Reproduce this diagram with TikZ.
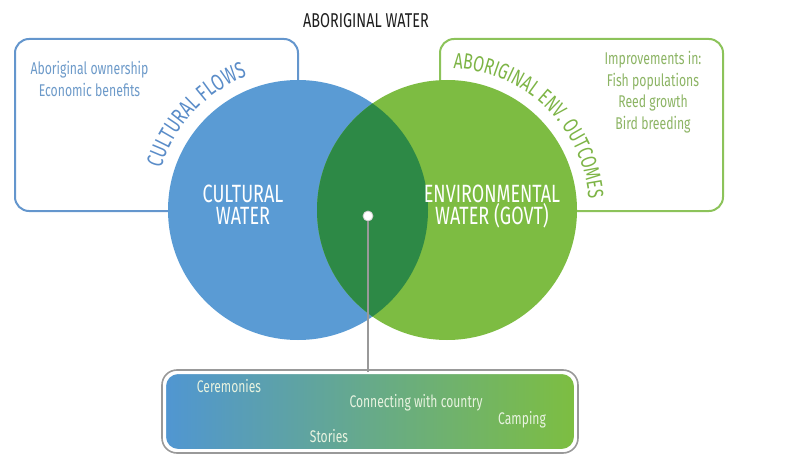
\documentclass[tikz,border=0pt]{standalone}
\usepackage{fontspec}
\usepackage{tikz}
\usetikzlibrary{positioning}
\usetikzlibrary{decorations.text}
\setmainfont{Fira Sans}
\newfontfamily\dinfont[FakeStretch=0.72]{Fira Sans}
\definecolor{culturalblue}{HTML}{5A9BD4}
\definecolor{envgreen}{HTML}{7DBC42}
\definecolor{overlapgreen}{HTML}{2D8946}
\definecolor{boxblue}{HTML}{6496CD}
\definecolor{boxgreen}{HTML}{8CC35A}
\definecolor{textblue}{HTML}{6D9AC9}
\definecolor{textgreen}{HTML}{8CB464}
\definecolor{flowblue}{HTML}{5A8CC8}
\definecolor{flowgreen}{HTML}{7DB446}
\definecolor{stripblue}{HTML}{5096D2}
\definecolor{stripgreen}{HTML}{7DBE41}
\definecolor{chiptext}{HTML}{E8F3E0}
\definecolor{linkgrey}{HTML}{999999}
\definecolor{titleblack}{HTML}{1E1E1E}

\begin{document}
\begin{tikzpicture}[x=1pt,y=1pt]

\tikzstyle{outline}=[rounded corners=14pt, line width=2pt]
\tikzstyle{blurb}=[font=\dinfont\fontsize{17}{21.5}\selectfont, align=center, inner sep=0pt]
\tikzstyle{bigword}=[font=\dinfont\fontsize{25}{22}\selectfont, text=white, align=center, inner sep=0pt]
\tikzstyle{waterdisc}=[circle, minimum size=260pt, inner sep=0pt]
\tikzstyle{chip}=[font=\dinfont\fontsize{16.8}{18}\selectfont, text=chiptext, inner sep=0pt]

\useasboundingbox (0,0) rectangle (800,-473);

\node at (366,-21) (title) {\dinfont\fontsize{20}{22}\selectfont\color{titleblack}ABORIGINAL WATER};

\draw[outline, boxblue] (15,-39) rectangle (298,-211);
\draw[outline, boxgreen] (440,-39) rectangle (723,-211);

\node[blurb, text=textblue] at (89.5,-79) (ownership) {Aboriginal ownership\\Economic benefits};
\node[blurb, text=textgreen] at (653,-92) (improvements) {Improvements in:\\Fish populations\\Reed growth\\Bird breeding};

\node[waterdisc, fill=culturalblue] at (298,-210) (cultural) {};
\node[waterdisc, fill=envgreen] at (447,-210) (environmental) {};
\begin{scope}
\clip (cultural.center) circle[radius=130pt];
\fill[overlapgreen] (environmental.center) circle[radius=130pt];
\end{scope}

\path[decorate, decoration={text along path, text align=center,
  text={|\dinfont\fontsize{23}{23}\selectfont\color{flowblue}|CULTURAL FLOWS}}]
  (cultural.center) ++(175:143pt) arc[start angle=175, end angle=99, radius=143pt];
\path[decorate, decoration={text along path, text align=center,
  text={|\dinfont\fontsize{22}{22}\selectfont\color{flowgreen}|ABORIGINAL ENV. OUTCOMES}}]
  (environmental.center) ++(100:142pt) arc[start angle=100, end angle=-8, radius=142pt];

\node[bigword] at (243,-205) (cwater) {CULTURAL\\WATER};
\node[bigword] at (492,-207) (ewater) {ENVIRONMENTAL\\WATER (GOVT)};

\node[rounded corners=13pt, minimum width=410pt, minimum height=77pt, left color=stripblue, right color=stripgreen, draw=white, line width=2pt] at (370,-411.5) (practices) {};
\draw[rounded corners=15pt, linkgrey, line width=1.6pt] ([shift={(-2pt,2pt)}]practices.north west) rectangle ([shift={(2pt,-2pt)}]practices.south east);

\node[chip] at (229,-386) (ceremonies) {Ceremonies};
\node[chip] at (416,-403) (connecting) {Connecting with country};
\node[chip] at (522,-420) (camping) {Camping};
\node[chip] at (329,-436) (stories) {Stories};

\node[circle, fill=white, draw=linkgrey!50, line width=0.8pt, minimum size=10pt, inner sep=0pt] at (368,-216) (hub) {};
\draw[linkgrey, line width=1.8pt] (hub.south) -- (hub |- practices.north);

\end{tikzpicture}
\end{document}
